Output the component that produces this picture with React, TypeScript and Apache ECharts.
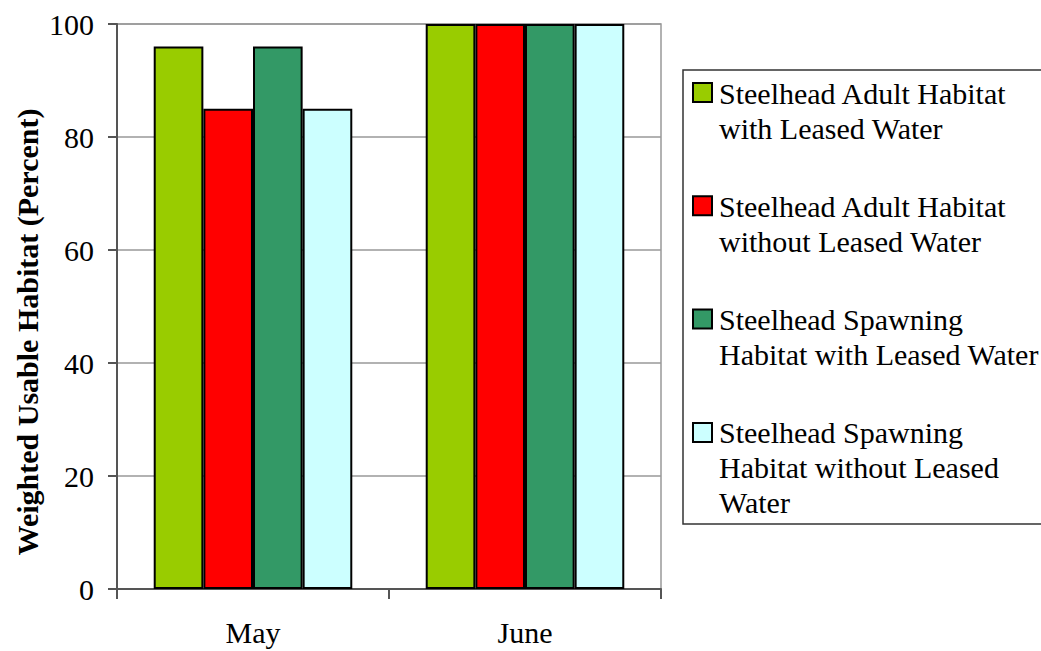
import React, { useEffect, useRef } from "react";
import * as echarts from "echarts";

const categories = ["May", "June"];
const seriesNames = [
  "Steelhead Adult Habitat with Leased Water",
  "Steelhead Adult Habitat without Leased Water",
  "Steelhead Spawning Habitat with Leased Water",
  "Steelhead Spawning Habitat without Leased Water",
];
const legendLabels = [
  "Steelhead Adult Habitat\nwith Leased Water",
  "Steelhead Adult Habitat\nwithout Leased Water",
  "Steelhead Spawning\nHabitat with Leased Water",
  "Steelhead Spawning\nHabitat without Leased\nWater",
];
const adultWith = [96, 100];
const adultWithout = [85, 100];
const spawnWith = [96, 100];
const spawnWithout = [85, 100];
const seriesValues = [adultWith, adultWithout, spawnWith, spawnWithout];
const colors = ["#99CC00", "#FF0000", "#339966", "#CCFFFF"];
const yTicks = [0, 20, 40, 60, 80, 100];
const yTitle = "Weighted Usable Habitat (Percent)";

const FONT = "Liberation Serif";
const FS = 30;

export default function App() {
  const ref = useRef<HTMLDivElement>(null);
  useEffect(() => {
    if (!ref.current) return;
    const chart = echarts.init(ref.current, null, { renderer: "svg" });
    const graphics: any[] = [
      {
        type: "rect",
        shape: { x: 683, y: 70, width: 400, height: 454 },
        style: { fill: "#fff", stroke: "#333", lineWidth: 1.5 },
        z: 0,
      },
      {
        type: "text",
        x: 27,
        y: 332,
        rotation: Math.PI / 2,
        style: {
          text: yTitle,
          fontSize: FS,
          fontWeight: "bold",
          fontFamily: FONT,
          fill: "#000",
          align: "center",
          verticalAlign: "middle",
        },
        z: 1,
      },
    ];
    legendLabels.forEach((lbl, i) => {
      const cy = 93 + i * 113.3;
      graphics.push({
        type: "rect",
        shape: { x: 693, y: cy - 10, width: 19, height: 19 },
        style: { fill: colors[i], stroke: "#000", lineWidth: 2 },
        z: 1,
      });
      graphics.push({
        type: "text",
        x: 719,
        y: cy - 17.5,
        style: {
          text: lbl,
          fontSize: FS,
          fontFamily: FONT,
          fill: "#000",
          lineHeight: 35,
          verticalAlign: "top",
        },
        z: 1,
      });
    });
    chart.setOption({
      animation: false,
      backgroundColor: "#fff",
      textStyle: { fontFamily: FONT },
      grid: {
        left: 117,
        top: 24,
        width: 544,
        height: 565,
        show: true,
        borderColor: "#999",
        borderWidth: 1.5,
        backgroundColor: "transparent",
      },
      xAxis: {
        type: "category",
        data: categories,
        axisLine: { lineStyle: { color: "#555", width: 2 } },
        axisTick: { show: true, length: 10, lineStyle: { color: "#555", width: 2 } },
        axisLabel: { color: "#000", fontSize: FS, fontFamily: FONT, margin: 28 },
      },
      yAxis: {
        type: "value",
        min: 0,
        max: 100,
        interval: 20,
        axisLine: { show: true, lineStyle: { color: "#555", width: 2 } },
        axisTick: { show: true, length: 9, lineStyle: { color: "#555", width: 2 } },
        axisLabel: {
          color: "#000",
          fontSize: FS,
          fontFamily: FONT,
          margin: 23,
          formatter: (v: number) => (yTicks.includes(v) ? String(v) : ""),
        },
        splitLine: { show: true, lineStyle: { color: "#999", width: 1.5 } },
      },
      legend: { show: false },
      series: seriesNames.map((name, i) => ({
        name,
        type: "bar",
        data: seriesValues[i],
        barGap: "0%",
        barCategoryGap: "27%",
        itemStyle: { color: colors[i], borderColor: "#000", borderWidth: 2 },
      })),
      graphic: graphics,
    });
    return () => chart.dispose();
  }, []);
  return (
    <div
      ref={ref}
      style={{ position: "fixed", left: 0, top: 0, width: 1041, height: 651 }}
    />
  );
}
